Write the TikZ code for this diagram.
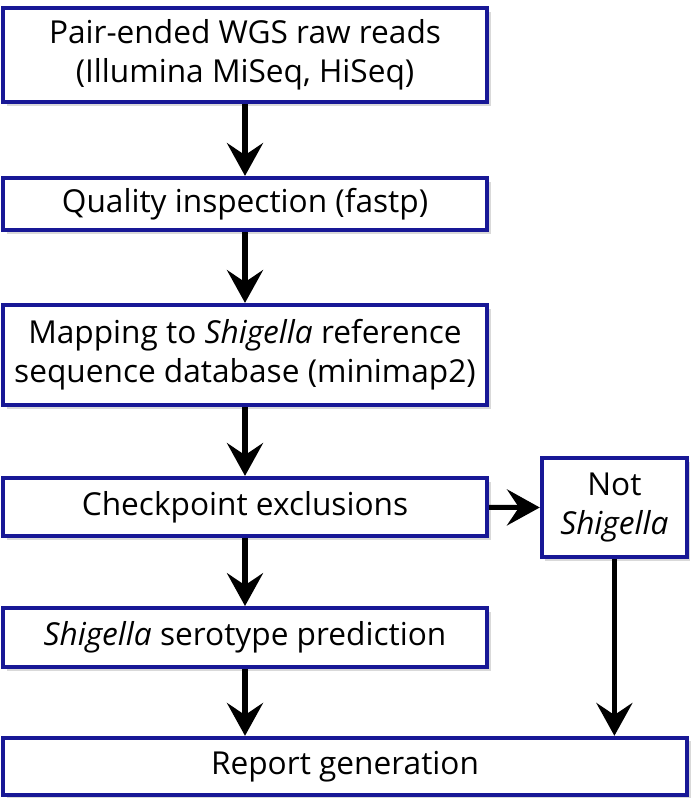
\documentclass[tikz,border=0pt]{standalone}
\usepackage{fontspec}
\setmainfont{Open Sans}
\usepackage{tikz}
\usetikzlibrary{arrows.meta,shadows}
\definecolor{boxblue}{RGB}{24,24,150}

\begin{document}
\begin{tikzpicture}[
	stepbox/.style={draw=boxblue, line width=3pt, fill=white, align=center,
		inner sep=0pt, minimum width=12.1cm, font=\fontsize{22.5}{28}\selectfont,
		drop shadow={shadow xshift=2.5pt, shadow yshift=-2.5pt, opacity=0.3}},
	flow/.style={line width=3.6pt, -{Stealth[length=0.82cm, width=0.9cm, inset=0.3cm]}}]
	\useasboundingbox (0,0) rectangle (17.5,-20.2);
	\node[stepbox, minimum height=2.35cm] (reads) at (6.125,-1.375) {Pair-ended WGS raw reads\\(Illumina MiSeq, HiSeq)};
	\node[stepbox, minimum height=1.3cm] (qc) at (6.125,-5.1) {Quality inspection (fastp)};
	\node[stepbox, minimum height=2.5cm] (map) at (6.125,-8.875) {Mapping to \textit{Shigella} reference\\sequence database (minimap2)};
	\node[stepbox, minimum height=1.45cm] (check) at (6.125,-12.675) {Checkpoint exclusions};
	\node[stepbox, minimum height=1.475cm] (sero) at (6.125,-15.94) {\textit{Shigella} serotype prediction};
	\node[stepbox, minimum width=3.625cm, minimum height=2.475cm] (notshig) at (15.36,-12.69) {Not\\\textit{Shigella}};
	\node[stepbox, minimum width=17.1cm, minimum height=1.425cm] (report) at (8.625,-19.16) {Report generation};
	\draw[flow] (reads) -- (qc);
	\draw[flow] (qc) -- (map);
	\draw[flow] (map) -- (check);
	\draw[flow] (check) -- (sero);
	\draw[flow] (check) -- (notshig);
	\draw[flow] (sero) -- (sero |- report.north);
	\draw[flow] (notshig) -- (notshig |- report.north);
\end{tikzpicture}
\end{document}
